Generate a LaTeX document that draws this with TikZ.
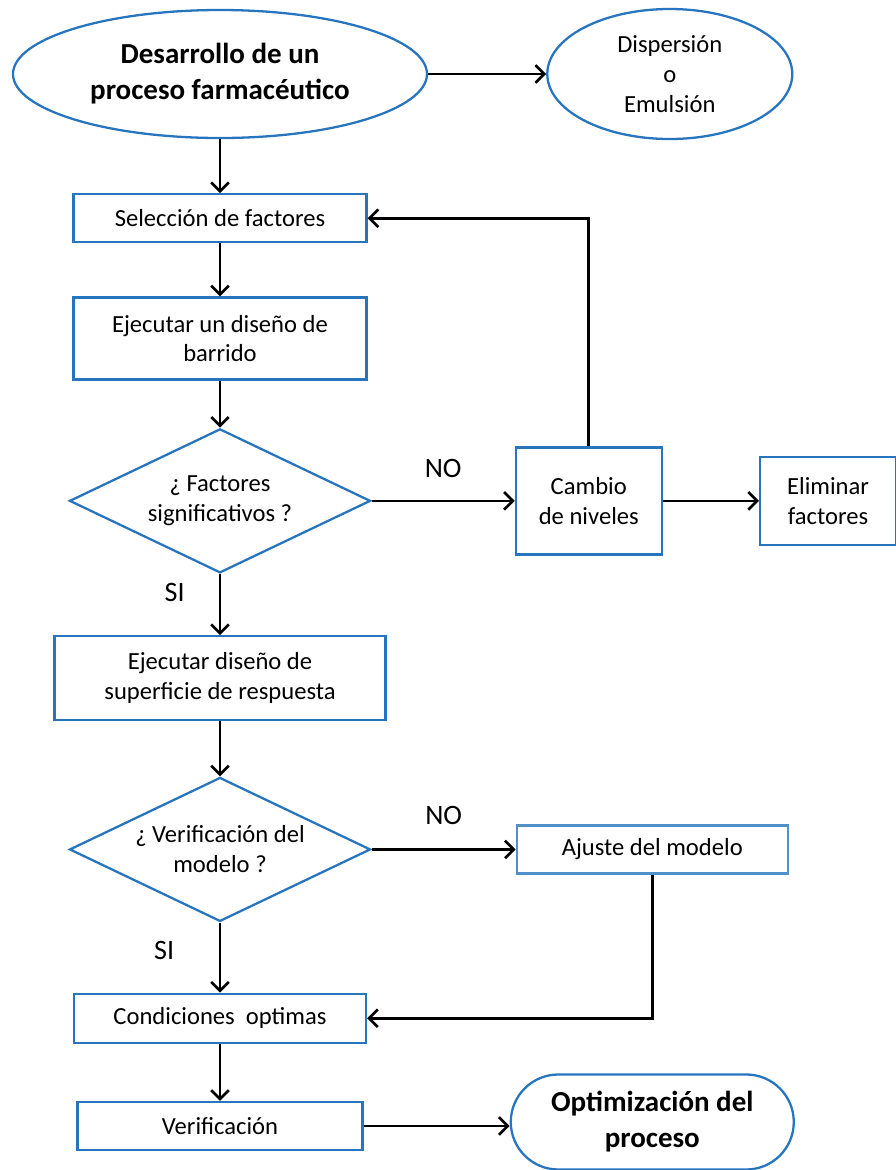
\documentclass[tikz,border=0pt]{standalone}
\usepackage{fontspec}
\setmainfont{Carlito}
\usetikzlibrary{positioning, arrows.meta, shapes.geometric}
\definecolor{flowblue}{RGB}{38,117,190}

\begin{document}
\begin{tikzpicture}[
    font=\fontsize{14}{17}\selectfont,
    box/.style={
        draw=flowblue, line width=1.3pt,
        align=center, inner sep=2pt
    },
    terminal/.style={
        draw=flowblue, line width=1.3pt, ellipse,
        align=center, inner sep=0pt
    },
    decision/.style={
        draw=flowblue, line width=1.3pt, diamond, aspect=2.1,
        align=center, inner sep=0pt,
        minimum width=6.02cm, minimum height=2.88cm
    },
    flow/.style={-{Straight Barb[length=5pt, width=10pt]}, line width=1.5pt},
    answer/.style={font=\fontsize{16}{18}\selectfont}
]

\useasboundingbox (0,0) rectangle (17.92,-23.4);

% ===== MAIN COLUMN =====
\node[terminal, minimum width=8.28cm, minimum height=2.56cm,
      font=\fontsize{16.5}{20.5}\selectfont\bfseries] (start) at (4.4,-1.48)
{Desarrollo de un\\proceso farmacéutico};

\node[box, minimum width=5.86cm, minimum height=0.96cm, below=1.08cm of start] (seleccion)
{Selección de factores};

\node[box, minimum width=5.86cm, minimum height=1.64cm, below=1.06cm of seleccion] (barrido)
{Ejecutar un diseño de\\barrido};

\node[decision, below=0.94cm of barrido] (significativos)
{¿ Factores\\significativos ?};

\node[box, minimum width=6.62cm, minimum height=1.68cm, below=1.22cm of significativos] (superficie)
{Ejecutar diseño de\\superficie de respuesta};

\node[decision, below=1.10cm of superficie] (verificacion)
{¿ Verificación del\\modelo ?};

\node[box, minimum width=5.84cm, minimum height=0.98cm, below=1.40cm of verificacion] (optimas)
{Condiciones\ \ optimas};

\node[box, minimum width=5.7cm, minimum height=0.96cm, below=1.14cm of optimas] (final)
{Verificación};

% ===== RIGHT SIDE =====
\node[terminal, minimum width=4.9cm, minimum height=2.6cm, right=2.36cm of start] (dispersion)
{Dispersión\\o\\Emulsión};

\node[box, minimum width=2.92cm, minimum height=2.14cm, right=2.86cm of significativos] (cambio)
{Cambio\\de niveles};

\node[box, minimum width=2.72cm, minimum height=1.76cm, right=1.92cm of cambio] (eliminar)
{Eliminar\\factores};

\node[box, draw=flowblue!80, minimum width=5.42cm, minimum height=0.96cm, right=2.88cm of verificacion] (ajuste)
{Ajuste del modelo};

\node[box, rounded corners=0.95cm, minimum width=5.66cm, minimum height=1.9cm,
      right=2.92cm of final, yshift=0.08cm, font=\fontsize{16.5}{20.5}\selectfont\bfseries] (optimizacion)
{Optimización del\\proceso};

% ===== FLOWS =====
\draw[flow] (start) -- (dispersion);
\draw[flow] (start) -- (seleccion);
\draw[flow] (seleccion) -- (barrido);
\draw[flow] (barrido) -- (significativos);

\draw[flow] (significativos) -- (cambio)
node[midway, above=9pt, answer] {NO};
\draw[flow] (significativos) -- (superficie)
node[pos=0.3, left=16pt, answer] {SI};

\draw[flow] (cambio) -- (eliminar);
\draw[flow] (cambio.north) |- (seleccion.east);

\draw[flow] (superficie) -- (verificacion);

\draw[flow] (verificacion) -- (ajuste)
node[midway, above=10pt, answer] {NO};
\draw[flow] (verificacion) -- (optimas)
node[pos=0.4, left=22pt, answer] {SI};

\draw[flow] (ajuste.south) |- (optimas.east);

\draw[flow] (optimas) -- (final);
\draw[flow] (final) -- (final -| optimizacion.west);

\end{tikzpicture}
\end{document}
